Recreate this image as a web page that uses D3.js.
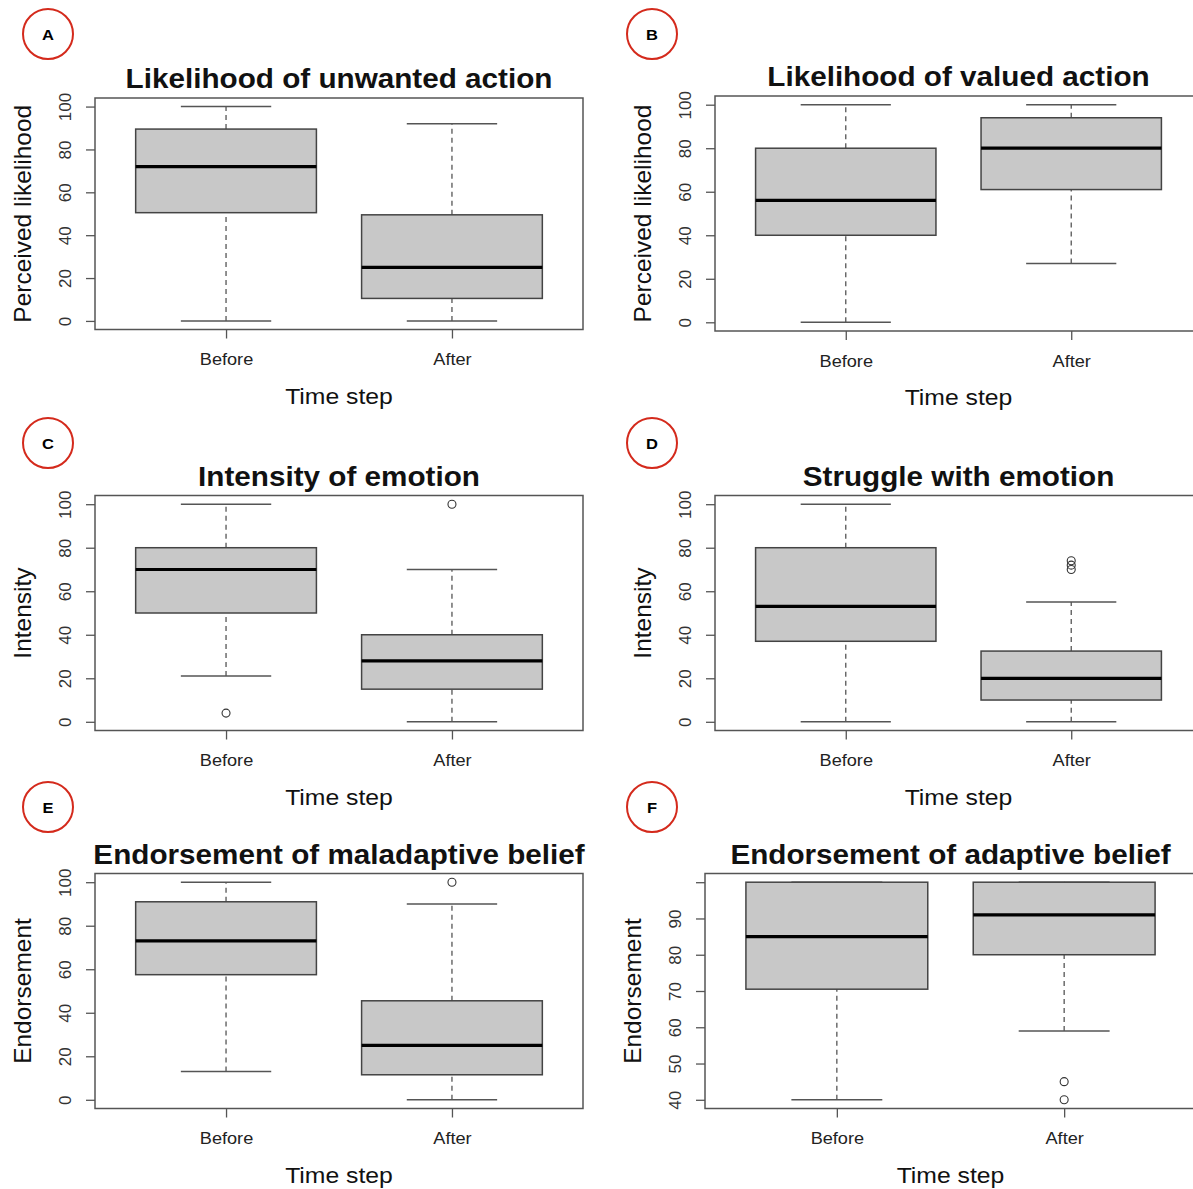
<!DOCTYPE html>
<html>
<head>
<meta charset="utf-8">
<script src="https://cdn.jsdelivr.net/npm/d3@7"></script>
<style>
  body { margin: 0; background: #fff; }
  text { font-family: "Liberation Sans", Arial, Helvetica, sans-serif; }
</style>
</head>
<body>
<div id="chart"></div>
<script>
// groups on the x axis
var groups = ["Before", "After"];

// panel labels, titles and y axis names
var panelLetters = ["A", "B", "C", "D", "E", "F"];
var panelTitles = [
  "Likelihood of unwanted action",
  "Likelihood of valued action",
  "Intensity of emotion",
  "Struggle with emotion",
  "Endorsement of maladaptive belief",
  "Endorsement of adaptive belief"
];
var yTitles = ["Perceived likelihood", "Perceived likelihood", "Intensity", "Intensity", "Endorsement", "Endorsement"];

// box stats per group: [lower whisker, Q1, median, Q3, upper whisker]
var statsA = [[0, 50.5, 72, 89.5, 100], [0, 10.5, 25, 49.5, 92]];
var statsB = [[0, 40, 56, 80, 100], [27, 61, 80, 94, 100]];
var statsC = [[21, 50, 70, 80, 100], [0, 15, 28, 40, 70]];
var statsD = [[0, 37, 53, 80, 100], [0, 10, 20, 32.5, 55]];
var statsE = [[13, 57.5, 73, 91, 100], [0, 11.5, 25, 45.5, 90]];
var statsF = [[40, 70.5, 85, 100, 100], [59, 80, 91, 100, 100]];

// outliers per group
var outA = [[], []];
var outB = [[], []];
var outC = [[4], [100]];
var outD = [[], [70, 72, 74]];
var outE = [[], [100]];
var outF = [[], [45, 40]];

// y ranges and ticks
var yRange100 = [0, 100];
var yRangeF = [40, 100];
var yTicks100 = [0, 20, 40, 60, 80, 100];
var yTicksF = [40, 50, 60, 70, 80, 90, 100];
var yLabelsF = ["40", "50", "60", "70", "80", "90", ""];

var W = 1193, H = 1189;
var SX = 1.1; // horizontal stretch of the source text

// panel frames on the page
var panels = [
  {stats: statsA, out: outA, range: yRange100, ticks: yTicks100, labels: null, left: 95,  right: 583,  top: 98,  bottom: 329.5, cx: 48,  cy: 34},
  {stats: statsB, out: outB, range: yRange100, ticks: yTicks100, labels: null, left: 715, right: 1202, top: 96,  bottom: 331,   cx: 652, cy: 34},
  {stats: statsC, out: outC, range: yRange100, ticks: yTicks100, labels: null, left: 95,  right: 583,  top: 495.5, bottom: 730.5, cx: 48,  cy: 443},
  {stats: statsD, out: outD, range: yRange100, ticks: yTicks100, labels: null, left: 715, right: 1202, top: 495.5, bottom: 730.5, cx: 652, cy: 443},
  {stats: statsE, out: outE, range: yRange100, ticks: yTicks100, labels: null, left: 95,  right: 583,  top: 873.5, bottom: 1108.5, cx: 48,  cy: 807},
  {stats: statsF, out: outF, range: yRangeF,   ticks: yTicksF,   labels: yLabelsF, left: 705, right: 1196, top: 873.5, bottom: 1108.5, cx: 652, cy: 807}
];

var svg = d3.select("#chart").append("svg")
    .attr("width", W)
    .attr("height", H);

svg.append("rect").attr("width", W).attr("height", H).attr("fill", "#fff");

panels.forEach(function(p, k) {
  var g = svg.append("g");
  var lo = p.range[0], hi = p.range[1], pad = 0.04 * (hi - lo);

  var x = d3.scaleLinear().domain([0.42, 2.58]).range([p.left, p.right]);
  var y = d3.scaleLinear().domain([lo - pad, hi + pad]).range([p.bottom, p.top]);

  // panel letter in red circle
  g.append("circle")
      .attr("cx", p.cx).attr("cy", p.cy).attr("r", 25)
      .attr("fill", "none").attr("stroke", "#d42a1c").attr("stroke-width", 2);
  g.append("text")
      .attr("transform", "translate(" + p.cx + "," + (p.cy + 5.5) + ") scale(" + SX + ",1)")
      .attr("text-anchor", "middle")
      .style("font-size", "15px").style("font-weight", "bold")
      .text(panelLetters[k]);

  // boxes
  p.stats.forEach(function(s, i) {
    var c = x(i + 1);
    var bx0 = x(i + 0.6), bx1 = x(i + 1.4);
    var cx0 = x(i + 0.8), cx1 = x(i + 1.2);

    // whiskers
    g.append("line")
        .attr("x1", c).attr("x2", c).attr("y1", y(s[0])).attr("y2", y(s[1]))
        .attr("stroke", "#555").attr("stroke-width", 1.3).attr("stroke-dasharray", "5,4");
    g.append("line")
        .attr("x1", c).attr("x2", c).attr("y1", y(s[3])).attr("y2", y(s[4]))
        .attr("stroke", "#555").attr("stroke-width", 1.3).attr("stroke-dasharray", "5,4");
    // caps
    [s[0], s[4]].forEach(function(v) {
      g.append("line")
          .attr("x1", cx0).attr("x2", cx1).attr("y1", y(v)).attr("y2", y(v))
          .attr("stroke", "#555").attr("stroke-width", 1.5);
    });
    // box
    g.append("rect")
        .attr("x", bx0).attr("y", y(s[3]))
        .attr("width", bx1 - bx0).attr("height", y(s[1]) - y(s[3]))
        .attr("fill", "#c8c8c8").attr("stroke", "#444").attr("stroke-width", 1.5);
    // median
    g.append("line")
        .attr("x1", bx0).attr("x2", bx1).attr("y1", y(s[2])).attr("y2", y(s[2]))
        .attr("stroke", "#000").attr("stroke-width", 3.2);
    // outliers
    p.out[i].forEach(function(v) {
      g.append("circle")
          .attr("cx", c).attr("cy", y(v)).attr("r", 4)
          .attr("fill", "none").attr("stroke", "#333").attr("stroke-width", 1.1);
    });
  });

  // plot frame
  g.append("rect")
      .attr("x", p.left).attr("y", p.top)
      .attr("width", p.right - p.left).attr("height", p.bottom - p.top)
      .attr("fill", "none").attr("stroke", "#555").attr("stroke-width", 1.5);

  // y axis
  var yAxis = g.append("g")
      .attr("transform", "translate(" + p.left + ",0)")
      .call(d3.axisLeft(y).tickValues(p.ticks).tickSize(9)
        .tickFormat(function(d, j) { return p.labels ? p.labels[j] : d; }));
  yAxis.select(".domain").remove();
  yAxis.selectAll(".tick line").attr("stroke", "#555").attr("stroke-width", 1.3);
  yAxis.selectAll(".tick text")
      .attr("transform", "rotate(-90)")
      .attr("x", 0).attr("y", -24).attr("dy", 0)
      .attr("text-anchor", "middle")
      .attr("fill", "#333")
      .style("font-size", "17px");

  // x axis
  var xAxis = g.append("g")
      .attr("transform", "translate(0," + p.bottom + ")")
      .call(d3.axisBottom(x).tickValues([1, 2]).tickSize(9)
        .tickFormat(function(d) { return groups[d - 1]; }));
  xAxis.select(".domain").remove();
  xAxis.selectAll(".tick line").attr("stroke", "#555").attr("stroke-width", 1.3);
  xAxis.selectAll(".tick text")
      .attr("transform", "translate(0,35.5) scale(" + SX + ",1)")
      .attr("y", 0).attr("dy", 0)
      .attr("fill", "#222")
      .style("font-size", "16.5px");

  // titles
  var mid = (p.left + p.right) / 2;
  g.append("text")
      .attr("transform", "translate(" + mid + "," + (p.top - 10) + ") scale(1.06,1)")
      .attr("text-anchor", "middle")
      .style("font-size", "28px").style("font-weight", "bold")
      .attr("fill", "#111")
      .text(panelTitles[k]);

  g.append("text")
      .attr("transform", "translate(" + mid + "," + (p.bottom + 74) + ") scale(" + SX + ",1)")
      .attr("text-anchor", "middle")
      .style("font-size", "22.5px")
      .attr("fill", "#111")
      .text("Time step");

  g.append("text")
      .attr("transform", "translate(" + (p.left - 64) + "," + ((p.top + p.bottom) / 2) + ") rotate(-90)")
      .attr("text-anchor", "middle")
      .style("font-size", "24.5px")
      .attr("fill", "#111")
      .text(yTitles[k]);
});
</script>
</body>
</html>
